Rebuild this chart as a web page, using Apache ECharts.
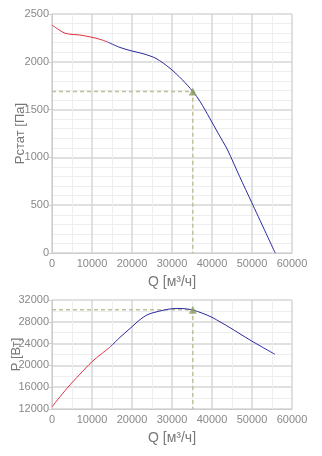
<!DOCTYPE html>
<html><head><meta charset="utf-8">
<script src="https://cdn.jsdelivr.net/npm/echarts@6/dist/echarts.min.js"></script>
<style>html,body{margin:0;padding:0;background:#fff}#c{width:322px;height:456px}</style>
</head><body><div id="c"></div>
<script>
var pressRed = [[0,2385],[1700,2335],[3300,2298],[5000,2287],[7000,2280],[10000,2256],[12000,2235],[14000,2205]];
var pressBlue = [[14000,2205],[17000,2150],[20000,2113],[23000,2082],[26000,2035],[29500,1932],[32500,1815],[35200,1690],[37000,1586],[39500,1405],[41500,1255],[43900,1077],[46900,800],[49900,531],[55800,0]];
var powRed = [[0,12400],[3750,15800],[7000,18400],[10000,20680],[12300,22080],[14600,23430]];
var powBlue = [[14600,23430],[17000,25150],[20000,27100],[22000,28400],[24000,29350],[26000,29800],[28000,30150],[30000,30400],[32000,30450],[34000,30330],[35200,30165],[37500,29600],[40000,28820],[44500,26920],[49500,24660],[55750,22030]];
var workQ = 35200, workP = 1690, workN = 30200;

var chart = echarts.init(document.getElementById('c'));
var lblColor = '#888', nameColor = '#777', font = 'Liberation Sans, Arial, sans-serif';
function fmt(v){return String(v);}
function xAx(gi){return {type:'value',gridIndex:gi,min:0,max:60000,interval:10000,
  name:'Q [м³/ч]',nameLocation:'middle',nameGap:22,nameMoveOverlap:false,nameTextStyle:{color:nameColor,fontSize:14,fontFamily:font},
  axisLine:{show:true,lineStyle:{color:'#ccc'}},axisTick:{show:false},
  axisLabel:{color:lblColor,fontSize:11,fontFamily:font,margin:5,formatter:fmt},
  splitLine:{show:true,lineStyle:{color:'#d6d6d6',width:1.5}},
  minorTick:{show:false,splitNumber:2},minorSplitLine:{show:true,lineStyle:{color:'#eeeeee'}}};}
function yAx(gi,min,max,intv,minor,name,gap){return {type:'value',gridIndex:gi,min:min,max:max,interval:intv,
  name:name,nameLocation:'middle',nameGap:gap,nameMoveOverlap:false,nameTextStyle:{color:nameColor,fontSize:13,fontFamily:font},
  axisLine:{show:true,lineStyle:{color:'#ccc'}},axisTick:{show:true,length:3,lineStyle:{color:'#ccc'}},
  axisLabel:{color:lblColor,fontSize:11,fontFamily:font,margin:3,formatter:fmt},
  splitLine:{show:true,lineStyle:{color:'#d6d6d6',width:1.5}},
  minorTick:{show:false,splitNumber:minor},minorSplitLine:{show:true,lineStyle:{color:'#eeeeee'}}};}
var dash = {color:'#bfc09a',type:[4,3],width:1.5};
function curve(gi,data,color){return {type:'line',xAxisIndex:gi,yAxisIndex:gi,data:data,symbol:'none',smooth:0.3,lineStyle:{color:color,width:1},z:3};}
chart.setOption({
  animation:false,
  grid:[{left:52,right:30,top:14,height:239,outerBoundsMode:'none',containLabel:false},
        {left:52,right:30,top:300,height:109,outerBoundsMode:'none',containLabel:false}],
  xAxis:[xAx(0),xAx(1)],
  yAxis:[yAx(0,0,2500,500,5,'Pстат [Па]',25),yAx(1,12000,32000,4000,2,'P [Вт]',29)],
  series:[
    {type:'line',xAxisIndex:0,yAxisIndex:0,data:[[0,workP],[workQ,workP],[workQ,0]],symbol:'none',lineStyle:dash,z:2},
    curve(0,pressRed,'#e03040'),
    curve(0,pressBlue,'#2a2aa0'),
    {type:'scatter',xAxisIndex:0,yAxisIndex:0,data:[[workQ,workP]],symbol:'triangle',symbolSize:8,itemStyle:{color:'#8c9c62'},z:4},
    {type:'line',xAxisIndex:1,yAxisIndex:1,data:[[0,workN],[workQ,workN],[workQ,12000]],symbol:'none',lineStyle:dash,z:2},
    curve(1,powRed,'#e03040'),
    curve(1,powBlue,'#2a2aa0'),
    {type:'scatter',xAxisIndex:1,yAxisIndex:1,data:[[workQ,workN]],symbol:'triangle',symbolSize:8,itemStyle:{color:'#8c9c62'},z:4}
  ]
});
</script></body></html>
